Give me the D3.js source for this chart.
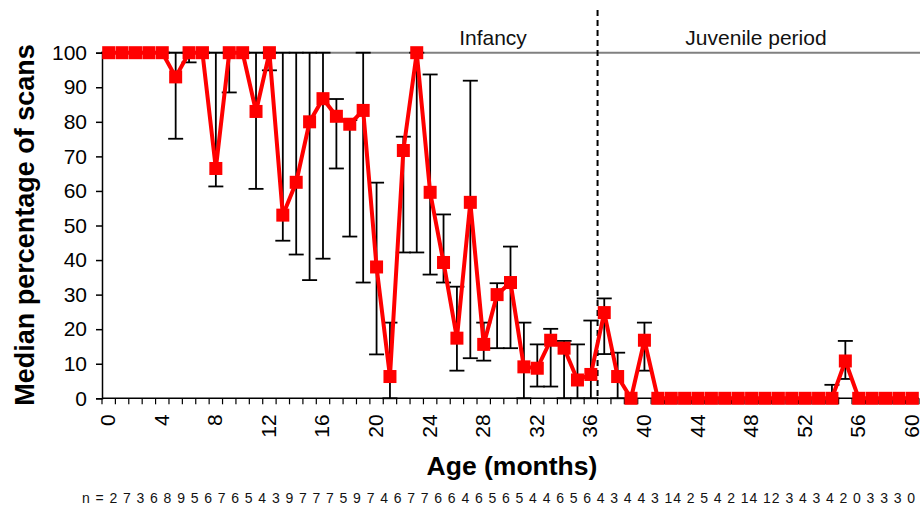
<!DOCTYPE html>
<html>
<head>
<meta charset="utf-8">
<script src="https://cdn.jsdelivr.net/npm/d3@7/dist/d3.min.js"></script>
<style>
  html, body { margin: 0; padding: 0; background: #fff; }
  svg { display: block; font-family: Arial, "Liberation Sans", sans-serif; }
</style>
</head>
<body>
<svg id="chart" width="920" height="509"></svg>
<script>
// Age in months, 0 to 60
const months = d3.range(0, 61);

// Median percentage of scans per month
const median = [
  100, 100, 100, 100, 100, 93, 100, 100, 66.5, 100,
  100, 83, 100, 53, 62.5, 80, 86.7, 81.6, 79.3, 83.3,
  38, 6.3, 71.7, 100, 59.6, 39.3, 17.4, 56.7, 15.6, 30,
  33.5, 9.1, 8.7, 16.8, 14.5, 5.3, 6.9, 24.8, 6.3, 0,
  16.8, 0, 0, 0, 0, 0, 0, 0, 0, 0,
  0, 0, 0, 0, 0, 10.8, 0, 0, 0, 0,
  0
];

// Lower and upper ends of the error bars
const lower = [
  100, 100, 100, 100, 100, 75.1, 97.2, 100, 61.3, 88.5,
  100, 60.6, 94.9, 45.6, 41.6, 34.2, 40.4, 66.5, 46.8, 33.5,
  12.7, 0, 42.2, 42.2, 35.8, 33.5, 8, 11.6, 10.9, 14.5,
  14.5, 0, 3.4, 3.4, 0, 0, 0, 12.8, 0, 0,
  8, 0, 0, 0, 0, 0, 0, 0, 0, 0,
  0, 0, 0, 0, 0, 5.6, 0, 0, 0, 0,
  0
];
const upper = [
  100, 100, 100, 100, 100, 100, 100, 100, 100, 100,
  100, 100, 100, 100, 100, 100, 100, 86.6, 80.5, 100,
  62.4, 21.9, 75.7, 100, 93.7, 53.2, 32.3, 91.9, 21.9, 33.3,
  43.9, 21.9, 15.6, 20.1, 16.6, 15.6, 22.5, 28.9, 13.2, 0,
  21.9, 0, 0, 0, 0, 0, 0, 0, 0, 0,
  0, 0, 0, 0, 3.9, 16.6, 0, 0, 0, 0,
  0
];

// Sample sizes row printed under the axis
const sampleSizes = "n = 2 7 3 6 8 9 5 6 7 6 5 4 3 9 7 7 7 5 9 7 4 6 7 7 6 6 4 6 5 6 5 4 4 6 5 6 4 3 4 4 3 14 2 5 4 2 14 12 3 4 3 4 2 0 3 3 3 0";

const yTicks = d3.range(0, 101, 10);
const xTickLabels = d3.range(0, 61, 4);

// Developmental periods, split after month 36
const periods = [
  { label: "Infancy", from: 0, to: 36 },
  { label: "Juvenile period", from: 37, to: 60 }
];
const periodBoundary = 36;

const svg = d3.select("#chart");
const plotL = 102, plotR = 919, plotT = 52.7, plotB = 398.3;

const x = d3.scaleBand().domain(months).range([plotL, plotR]).padding(0);
const cx = m => x(m) + x.bandwidth() / 2;
const y = d3.scaleLinear().domain([0, 100]).range([plotB, plotT]);

// Horizontal reference line at 100 %
svg.append("line")
  .attr("x1", plotL).attr("x2", 920)
  .attr("y1", y(100)).attr("y2", y(100))
  .attr("stroke", "#808080").attr("stroke-width", 2);

// Period divider
const divX = x(periodBoundary) + x.bandwidth();
svg.append("line")
  .attr("x1", divX).attr("x2", divX)
  .attr("y1", 10).attr("y2", plotB)
  .attr("stroke", "#000").attr("stroke-width", 2)
  .attr("stroke-dasharray", "6,4");

// Period labels
svg.selectAll("text.period").data(periods).join("text")
  .attr("class", "period")
  .attr("x", (d, i) => i === 0 ? 493 : 756)
  .attr("y", 45)
  .attr("text-anchor", "middle")
  .attr("font-size", 21)
  .attr("fill", "#111")
  .text(d => d.label);

// Y axis
const yAxis = d3.axisLeft(y).tickValues(yTicks).tickSize(6).tickPadding(9);
const gy = svg.append("g").attr("transform", `translate(${plotL},0)`).call(yAxis);
gy.select(".domain").attr("stroke", "#000").attr("stroke-width", 1.5);
gy.selectAll(".tick line").attr("stroke", "#000").attr("stroke-width", 1.5);
gy.selectAll(".tick text").attr("font-size", 21).attr("font-family", "Arial, 'Liberation Sans', sans-serif").attr("fill", "#000");

// X axis: tick marks between months, labels every 4 months
const gx = svg.append("g").attr("transform", `translate(0,${plotB})`);
gx.append("line")
  .attr("x1", plotL).attr("x2", plotR)
  .attr("stroke", "#000").attr("stroke-width", 1.5);
gx.selectAll("line.tk").data(d3.range(0, 62)).join("line")
  .attr("class", "tk")
  .attr("x1", i => plotL + i * x.bandwidth())
  .attr("x2", i => plotL + i * x.bandwidth())
  .attr("y1", 0).attr("y2", 6)
  .attr("stroke", "#000").attr("stroke-width", 1.2);
gx.selectAll("text.lbl").data(xTickLabels).join("text")
  .attr("class", "lbl")
  .attr("transform", d => `translate(${cx(d) + 6.5},${16}) rotate(-90)`)
  .attr("text-anchor", "end")
  .attr("font-size", 21)
  .attr("fill", "#000")
  .text(d => d);

// Error bars
const capW = 7.5;
const eb = svg.append("g").attr("stroke", "#000").attr("stroke-width", 1.8);
months.forEach(m => {
  const lo = lower[m], hi = upper[m];
  if (lo === 0 && hi === 0) return;
  eb.append("line").attr("x1", cx(m)).attr("x2", cx(m)).attr("y1", y(lo)).attr("y2", y(hi));
  eb.append("line").attr("x1", cx(m) - capW).attr("x2", cx(m) + capW).attr("y1", y(hi)).attr("y2", y(hi));
  eb.append("line").attr("x1", cx(m) - capW).attr("x2", cx(m) + capW).attr("y1", y(lo)).attr("y2", y(lo));
});

// Median line and markers
const line = d3.line().x((d, i) => cx(months[i])).y(d => y(d));
svg.append("path")
  .datum(median)
  .attr("d", line)
  .attr("fill", "none")
  .attr("stroke", "#ff0000")
  .attr("stroke-width", 4)
  .attr("stroke-linejoin", "miter");

const ms = 13;
svg.selectAll("rect.mk").data(median).join("rect")
  .attr("class", "mk")
  .attr("x", (d, i) => cx(months[i]) - ms / 2)
  .attr("y", d => y(d) - ms / 2)
  .attr("width", ms).attr("height", ms)
  .attr("fill", "#ff0000");

// Axis titles
svg.append("text")
  .attr("x", 512).attr("y", 475)
  .attr("text-anchor", "middle")
  .attr("font-size", 26.5).attr("font-weight", "bold")
  .text("Age (months)");

svg.append("text")
  .attr("transform", `translate(34,${225}) rotate(-90)`)
  .attr("text-anchor", "middle")
  .attr("font-size", 27).attr("font-weight", "bold")
  .text("Median percentage of scans");

// Sample sizes
svg.append("text")
  .attr("x", 82).attr("y", 503)
  .attr("font-size", 14)
  .attr("fill", "#111")
  .attr("textLength", 833)
  .attr("lengthAdjust", "spacing")
  .text(sampleSizes);
</script>
</body>
</html>
